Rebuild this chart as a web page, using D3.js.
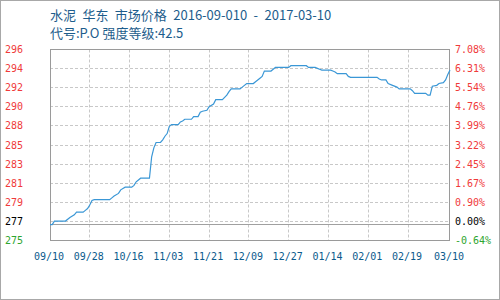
<!DOCTYPE html>
<html>
<head>
<meta charset="utf-8">
<script src="https://cdn.jsdelivr.net/npm/d3@7"></script>
<style>
  body { margin: 0; background: #fff; }
  svg { display: block; }
</style>
</head>
<body>
<svg width="500" height="300"></svg>
<script>
const svg = d3.select('svg')
const w = +svg.attr('width'), h = +svg.attr('height')

const titleLines = ['水泥 华东 市场价格 2016-09-010 - 2017-03-10', '代号:P.O 强度等级:42.5']

const basePrice = 277
const priceMin = 275.227, priceMax = 296.61

const leftLabels = ['275', '277', '279', '281', '283', '285', '288', '290', '292', '294', '296']
const rightLabels = ['-0.64%', '0.00%', '0.90%', '1.67%', '2.45%', '3.22%', '3.99%', '4.76%', '5.54%', '6.31%', '7.08%']

const xTickDates = ['2016-09-10', '2016-09-28', '2016-10-16', '2016-11-03', '2016-11-21', '2016-12-09',
  '2016-12-27', '2017-01-14', '2017-02-01', '2017-02-19', '2017-03-10']

const dates = [
  '2016-09-10', '2016-09-11', '2016-09-12', '2016-09-17', '2016-09-19', '2016-09-21', '2016-09-22',
  '2016-09-25', '2016-09-26', '2016-09-27', '2016-09-28', '2016-09-29', '2016-09-30', '2016-10-07',
  '2016-10-08', '2016-10-09', '2016-10-11', '2016-10-12', '2016-10-14', '2016-10-17', '2016-10-18',
  '2016-10-19', '2016-10-21', '2016-10-25', '2016-10-26', '2016-10-27', '2016-10-28', '2016-10-30',
  '2016-10-31', '2016-11-01', '2016-11-02', '2016-11-03', '2016-11-04', '2016-11-07', '2016-11-08',
  '2016-11-09', '2016-11-10', '2016-11-13', '2016-11-14', '2016-11-16', '2016-11-17', '2016-11-18',
  '2016-11-20', '2016-11-21', '2016-11-23', '2016-11-24', '2016-11-27', '2016-11-29', '2016-11-30',
  '2016-12-01', '2016-12-05', '2016-12-06', '2016-12-08', '2016-12-11', '2016-12-12', '2016-12-13',
  '2016-12-14', '2016-12-15', '2016-12-16', '2016-12-19', '2016-12-20', '2016-12-21', '2016-12-27',
  '2016-12-28', '2017-01-04', '2017-01-05', '2017-01-08', '2017-01-09', '2017-01-10', '2017-01-11',
  '2017-01-15', '2017-01-16', '2017-01-17', '2017-01-18', '2017-01-22', '2017-01-23', '2017-01-24',
  '2017-02-05', '2017-02-06', '2017-02-07', '2017-02-09', '2017-02-10', '2017-02-12', '2017-02-14',
  '2017-02-15', '2017-02-20', '2017-02-21', '2017-02-22', '2017-02-27', '2017-02-28', '2017-03-01',
  '2017-03-02', '2017-03-04', '2017-03-05', '2017-03-07', '2017-03-08', '2017-03-09', '2017-03-10'
]
const prices = [
  277.0, 277.0, 277.4, 277.4, 277.8, 278.1, 278.4,
  278.4, 278.6, 278.8, 279.2, 279.7, 279.8, 279.8,
  280.0, 280.2, 280.5, 280.9, 281.2, 281.2, 281.4,
  281.8, 282.2, 282.2, 284.6, 285.6, 286.2, 286.2,
  286.5, 286.9, 287.2, 288.0, 288.2, 288.2, 288.5,
  288.6, 288.8, 288.8, 289.1, 289.1, 289.6, 289.7,
  289.8, 290.2, 290.5, 291.0, 291.0, 291.5, 291.9,
  292.2, 292.2, 292.4, 292.8, 292.8, 293.0, 293.2,
  293.4, 293.6, 294.2, 294.2, 294.4, 294.6, 294.6,
  294.8, 294.8, 294.6, 294.6, 294.5, 294.4, 294.3,
  294.3, 294.2, 294.1, 293.9, 293.9, 293.6, 293.5,
  293.5, 293.3, 293.2, 293.2, 292.8, 292.6, 292.4,
  292.2, 292.2, 292.0, 291.7, 291.7, 291.5, 291.5,
  292.5, 292.6, 292.8, 292.9, 293.2, 293.8, 294.3
]

const parse = d3.timeParse('%Y-%m-%d')
const points = dates.map((d, i) => ({ date: parse(d), price: prices[i] }))

const plot = { left: 50, right: 450, top: 49.5, bottom: 240.5 }

const x = d3.scaleTime()
  .domain([parse(xTickDates[0]), parse(xTickDates[xTickDates.length - 1])])
  .range([plot.left, plot.right])

const y = d3.scaleLinear()
  .domain([priceMin, priceMax])
  .range([plot.bottom, plot.top])

const gridValues = d3.range(leftLabels.length)
  .map(i => priceMin + i * (priceMax - priceMin) / (leftLabels.length - 1))

const labelColor = i => i === 0 ? '#2ea52e' : i === 1 ? '#000' : '#f03a3a'
const crisp = v => Math.round(v - 0.5) + 0.5

// frame
svg.append('rect')
  .attr('x', 0.5).attr('y', 0.5)
  .attr('width', w - 1).attr('height', h - 1)
  .attr('fill', 'none')
  .attr('stroke', '#a8a8a8')

// title (first line has wide gaps between words)
svg.append('g').selectAll('text')
  .data(titleLines)
  .enter()
  .append('text')
  .attr('x', 50)
  .attr('y', (d, i) => 20 + i * 18)
  .attr('font-family', '"Noto Sans CJK SC", "Noto Sans", sans-serif')
  .attr('font-size', 13)
  .attr('word-spacing', (d, i) => i === 0 ? 3.5 : 0)
  .attr('fill', '#1d5d8c')
  .text(d => d)

// grid
const grid = svg.append('g')
  .attr('stroke', '#c8c8c8')
  .attr('stroke-dasharray', '3,2')

grid.selectAll('line.h')
  .data(gridValues.slice(1, -1))
  .enter()
  .append('line')
  .attr('class', 'h')
  .attr('x1', plot.left).attr('x2', plot.right)
  .attr('y1', d => crisp(y(d))).attr('y2', d => crisp(y(d)))

grid.selectAll('line.v')
  .data(xTickDates.slice(1, -1))
  .enter()
  .append('line')
  .attr('class', 'v')
  .attr('x1', d => crisp(x(parse(d)))).attr('x2', d => crisp(x(parse(d))))
  .attr('y1', plot.top).attr('y2', plot.bottom)

// base price line
svg.append('line')
  .attr('x1', plot.left).attr('x2', plot.right)
  .attr('y1', crisp(y(basePrice))).attr('y2', crisp(y(basePrice)))
  .attr('stroke', '#a0a0a0')

// border
svg.append('rect')
  .attr('x', crisp(plot.left)).attr('y', crisp(plot.top))
  .attr('width', plot.right - plot.left - 1)
  .attr('height', plot.bottom - plot.top)
  .attr('fill', 'none')
  .attr('stroke', '#9a9a9a')

// price line
const line = d3.line()
  .x(d => x(d.date))
  .y(d => y(d.price))

svg.append('path')
  .datum(points)
  .attr('d', line)
  .attr('fill', 'none')
  .attr('stroke', '#3a97d6')
  .attr('stroke-width', 1.2)

// axis labels
const monoFont = '"DejaVu Sans Mono", "Liberation Mono", monospace'

svg.append('g').selectAll('text')
  .data(leftLabels)
  .enter()
  .append('text')
  .attr('x', 5)
  .attr('y', (d, i) => y(gridValues[i]))
  .attr('dy', '0.35em')
  .attr('font-family', monoFont)
  .attr('font-size', 10)
  .attr('fill', (d, i) => labelColor(i))
  .text(d => d)

svg.append('g').selectAll('text')
  .data(rightLabels)
  .enter()
  .append('text')
  .attr('x', 455)
  .attr('y', (d, i) => y(gridValues[i]))
  .attr('dy', '0.35em')
  .attr('font-family', monoFont)
  .attr('font-size', 10)
  .attr('fill', (d, i) => labelColor(i))
  .text(d => d)

const fmt = d3.timeFormat('%m/%d')
svg.append('g').selectAll('text')
  .data(xTickDates)
  .enter()
  .append('text')
  .attr('x', d => x(parse(d)) - 1)
  .attr('y', 260)
  .attr('text-anchor', 'middle')
  .attr('font-family', monoFont)
  .attr('font-size', 10)
  .attr('fill', '#0b5a8c')
  .text(d => fmt(parse(d)))
</script>
</body>
</html>
